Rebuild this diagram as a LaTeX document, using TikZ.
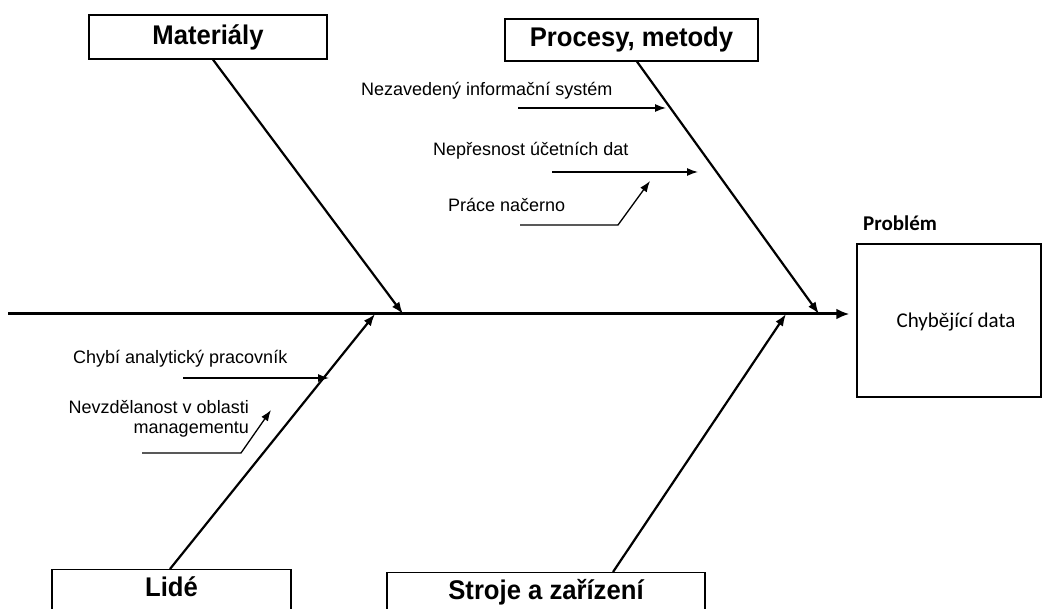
\documentclass[tikz,border=0pt]{standalone}
\usepackage{fontspec}
\setmainfont{Liberation Sans}
\newfontfamily\calfont{Carlito}
\usetikzlibrary{arrows.meta}

\begin{document}
\begin{tikzpicture}[x=1pt,y=-1pt,
  catbox/.style={draw, line width=1.3pt, inner sep=0pt,
    font=\fontsize{27}{30}\selectfont\bfseries},
  lowbox/.style={catbox, anchor=north, text height=27pt, text depth=35pt},
  spine/.style={line width=3pt, -{Latex[length=13pt,width=11pt]}},
  bone/.style={line width=2.2pt, -{Latex[length=12pt,width=9pt]}},
  cause/.style={line width=1.3pt, -{Latex[length=11pt,width=8pt]}},
  lbl/.style={font=\fontsize{18}{20}\selectfont, inner sep=0pt, anchor=base west},
]
\useasboundingbox (0,0) rectangle (1044,609);

% category boxes
\node[catbox, minimum width=238pt, minimum height=44pt] (mat) at (208,37) {\scalebox{0.95}[1]{Materiály}};
\node[catbox, minimum width=253pt, minimum height=42pt] (proc) at (631.5,40) {\scalebox{0.95}[1]{Procesy, metody}};
\node[lowbox, minimum width=239pt] (lid) at (171.5,569) {\scalebox{0.95}[1]{Lidé}};
\node[lowbox, minimum width=318pt] (stroj) at (546,572) {\scalebox{0.95}[1]{Stroje a zařízení}};

% problem (head of the fish)
\node[draw, line width=1.3pt, minimum width=184pt, minimum height=153pt, inner sep=0pt] (prob) at (949,320.5) {};
\node[font=\calfont\fontsize{21}{24}\selectfont, inner sep=0pt] (probtxt) at (956,322) {Chybějící data};
\node[font=\calfont\fontsize{21}{24}\selectfont\bfseries, inner sep=0pt, anchor=west] (probhead) at (863,223) {Problém};

% spine and joints on it
\coordinate (tail) at (8,314);
\coordinate (jmat) at (403,314);
\coordinate (jproc) at (819,314);
\coordinate (jlid) at (375,314);
\coordinate (jstroj) at (786,314);
\draw[spine, shorten >=7pt] (tail) -- (prob.west |- tail);

% main bones
\draw[bone] ([xshift=5pt]mat.south) -- (jmat);
\draw[bone] ([xshift=5.5pt]proc.south) -- (jproc);
\draw[bone] ([xshift=-1.5pt]lid.north) -- (jlid);
\draw[bone] ([xshift=67pt]stroj.north) -- (jstroj);

% causes: processes
\node[lbl] (c1) at (361,96) {Nezavedený informační systém};
\coordinate (c1s) at (518,108);
\coordinate (c1e) at (666,108);
\draw[cause] (c1s) -- (c1e);

\node[lbl] (c2) at (433,156) {Nepřesnost účetních dat};
\coordinate (c2s) at (552,172);
\coordinate (c2e) at (698,172);
\draw[cause] (c2s) -- (c2e);

\node[lbl] (c3) at (448,212) {Práce načerno};
\coordinate (c3s) at (520,225);
\coordinate (c3k) at (618,225);
\coordinate (c3e) at (650,181);
\draw[cause] (c3s) -- (c3k) -- (c3e);

% causes: people
\node[lbl] (c4) at (73,364) {Chybí analytický pracovník};
\coordinate (c4s) at (183,378);
\coordinate (c4e) at (329,378);
\draw[cause] (c4s) -- (c4e);

\node[lbl, anchor=base east, align=right] (c5) at (249,433) {Nevzdělanost v oblasti\\managementu};
\coordinate (c5s) at (142,453);
\coordinate (c5k) at (241,453);
\coordinate (c5e) at (271,410);
\draw[cause] (c5s) -- (c5k) -- (c5e);
\end{tikzpicture}
\end{document}
